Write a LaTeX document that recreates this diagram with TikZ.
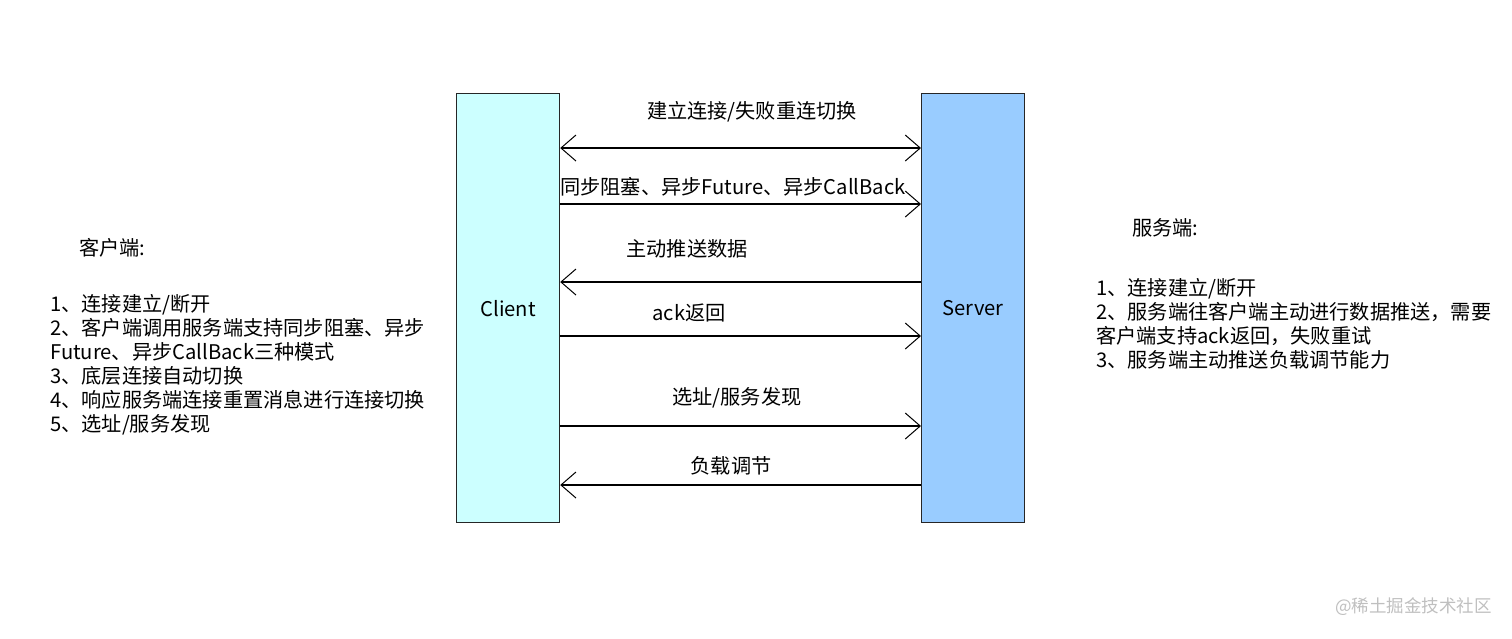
\documentclass[tikz,border=0pt]{standalone}
\usepackage{fontspec}
\setmainfont{Noto Sans CJK SC}
\usetikzlibrary{arrows.meta,positioning}

\begin{document}
\begin{tikzpicture}[x=1pt,y=-1pt,
    lane/.style={draw=black!85, line width=1.2pt, minimum width=103pt, minimum height=429pt, inner sep=0pt},
    barb/.tip={Straight Barb[length=15pt,width=26pt,line width=1pt]},
    msg/.style={line width=1.1pt, -barb},
    lbl/.style={font=\fontsize{20.2}{24}\selectfont, inner sep=0pt},
    note/.style={font=\fontsize{20.2}{24}\selectfont, align=left, inner sep=0pt, anchor=north west}]
    \useasboundingbox (0,0) rectangle (1512,638);
    % Client and server lanes
    \node[lane, fill={rgb,255:red,204;green,255;blue,255}, anchor=north west] (client) at (456,93) {};
    \node[lane, fill={rgb,255:red,153;green,204;blue,255}, anchor=north west] (server) at (921,93) {};
    \node[lbl] (cname) at (client.center) {Client};
    \node[lbl] (sname) at (server.center) {Server};

    % Messages
    \draw[msg, barb-barb] (client.east |- 0,148) -- (server.west |- 0,148);
    \node[lbl] (m1) at (752,112) {建立连接/失败重连切换};
    \draw[msg] (client.east |- 0,204) -- (server.west |- 0,204);
    \node[lbl] (m2) at (733,187) {同步阻塞、异步Future、异步CallBack};
    \draw[msg] (server.west |- 0,282) -- (client.east |- 0,282);
    \node[lbl] (m3) at (687,249) {主动推送数据};
    \draw[msg] (client.east |- 0,336) -- (server.west |- 0,336);
    \node[lbl] (m4) at (689,313) {ack返回};
    \draw[msg] (client.east |- 0,426) -- (server.west |- 0,426);
    \node[lbl] (m5) at (737,398) {选址/服务发现};
    \draw[msg] (server.west |- 0,485) -- (client.east |- 0,485);
    \node[lbl] (m6) at (731,466) {负载调节};

    % Notes
    \node[lbl, anchor=west] (ctitle) at (79,248) {客户端:};
    \node[note] (cnote) at (50,294) {1、连接建立/断开\\2、客户端调用服务端支持同步阻塞、异步\\Future、异步CallBack三种模式\\3、底层连接自动切换\\4、响应服务端连接重置消息进行连接切换\\5、选址/服务发现};
    \node[lbl, anchor=west] (stitle) at (1132,228) {服务端:};
    \node[note] (snote) at (1096,278) {1、连接建立/断开\\2、服务端往客户端主动进行数据推送，需要\\客户端支持ack返回，失败重试\\3、服务端主动推送负载调节能力};

    \node[lbl, font=\fontsize{17.5}{20}\selectfont, text=black!25, anchor=east] (mark) at (1492,607) {@稀土掘金技术社区};
\end{tikzpicture}
\end{document}
